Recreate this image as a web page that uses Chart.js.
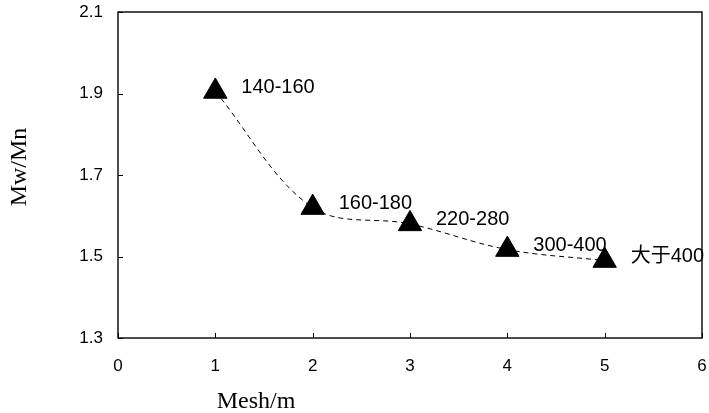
<!DOCTYPE html>
<html>
<head>
<meta charset="utf-8">
<script src="https://cdn.jsdelivr.net/npm/chart.js@4"></script>
<style>
  html, body { margin: 0; padding: 0; background: #fff; }
  #wrap { width: 709px; height: 413px; }
</style>
</head>
<body>
<div id="wrap"><canvas id="c" width="709" height="413"></canvas></div>
<script>
// Mesh grade index (x) and molecular weight distribution Mw/Mn (y)
const meshIndex = [1, 2, 3, 4, 5];
const mwMn = [1.905, 1.62, 1.58, 1.517, 1.49];
const meshLabels = ['140-160', '160-180', '220-280', '300-400', '大于400'];
const xTicks = [0, 1, 2, 3, 4, 5, 6];
const yTicks = [1.3, 1.5, 1.7, 1.9, 2.1];
const xTitle = 'Mesh/m';
const yTitle = 'Mw/Mn';

const SANS = '"Liberation Sans", Arial, Helvetica, "Noto Sans CJK SC", sans-serif';
const SERIF = '"Liberation Serif", "Times New Roman", serif';
const CLEAR = 'rgba(0,0,0,0)';

// Frame around the plot area, inward tick marks, point labels and axis titles
const decorations = {
  id: 'decorations',
  beforeDatasetsDraw(chart) {
    const { ctx, chartArea: a, scales } = chart;
    ctx.save();
    ctx.strokeStyle = '#000';
    ctx.lineWidth = 1.4;
    ctx.strokeRect(a.left, a.top, a.right - a.left, a.bottom - a.top);
    ctx.lineWidth = 1;
    ctx.beginPath();
    xTicks.forEach(v => {
      const px = Math.round(scales.x.getPixelForValue(v)) + 0.5;
      ctx.moveTo(px, a.bottom);
      ctx.lineTo(px, a.bottom - 5);
    });
    yTicks.forEach(v => {
      const py = Math.round(scales.y.getPixelForValue(v)) + 0.5;
      ctx.moveTo(a.left, py);
      ctx.lineTo(a.left + 5, py);
    });
    ctx.stroke();
    ctx.restore();
  },
  afterDatasetsDraw(chart) {
    const { ctx, chartArea: a } = chart;
    const meta = chart.getDatasetMeta(0);
    ctx.save();
    ctx.fillStyle = '#000';
    ctx.font = '20px ' + SANS;
    ctx.textAlign = 'left';
    ctx.textBaseline = 'middle';
    meta.data.forEach((pt, i) => {
      ctx.fillText(meshLabels[i], pt.x + 26, pt.y - 4);
    });

    // axis titles
    ctx.font = '24px ' + SERIF;
    ctx.textAlign = 'center';
    ctx.textBaseline = 'alphabetic';
    ctx.fillText(xTitle, a.left + 138, a.bottom + 70);

    ctx.translate(26, a.top + 155);
    ctx.rotate(-Math.PI / 2);
    ctx.fillText(yTitle, 0, 0);
    ctx.restore();
  }
};

new Chart(document.getElementById('c'), {
  type: 'line',
  data: {
    datasets: [{
      data: meshIndex.map((x, i) => ({ x, y: mwMn[i] })),
      borderColor: '#000',
      borderWidth: 1,
      borderDash: [5, 4],
      tension: 0.35,
      pointStyle: 'triangle',
      pointRadius: 13.5,
      pointBackgroundColor: '#000',
      pointBorderColor: '#000',
      pointBorderWidth: 1,
      fill: false
    }]
  },
  options: {
    responsive: false,
    animation: false,
    layout: { autoPadding: false, padding: { left: 0, right: 7, top: 12, bottom: 0 } },
    plugins: {
      legend: { display: false },
      tooltip: { enabled: false }
    },
    scales: {
      x: {
        type: 'linear',
        min: 0,
        max: 6,
        afterFit(scale) { scale.height = 75; },
        afterBuildTicks(scale) { scale.ticks = xTicks.map(v => ({ value: v })); },
        ticks: {
          color: '#000',
          font: { family: SANS, size: 17 },
          padding: 0,
          callback: v => String(v)
        },
        grid: { display: true, drawOnChartArea: false, drawTicks: true, tickLength: 18, tickColor: CLEAR, color: CLEAR },
        border: { display: false }
      },
      y: {
        min: 1.3,
        max: 2.1,
        afterFit(scale) { scale.width = 118; },
        afterBuildTicks(scale) { scale.ticks = yTicks.map(v => ({ value: v })); },
        ticks: {
          color: '#000',
          font: { family: SANS, size: 17 },
          padding: 0,
          callback: v => v.toFixed(1)
        },
        grid: { display: true, drawOnChartArea: false, drawTicks: true, tickLength: 15, tickColor: CLEAR, color: CLEAR },
        border: { display: false }
      }
    }
  },
  plugins: [decorations]
});
</script>
</body>
</html>
